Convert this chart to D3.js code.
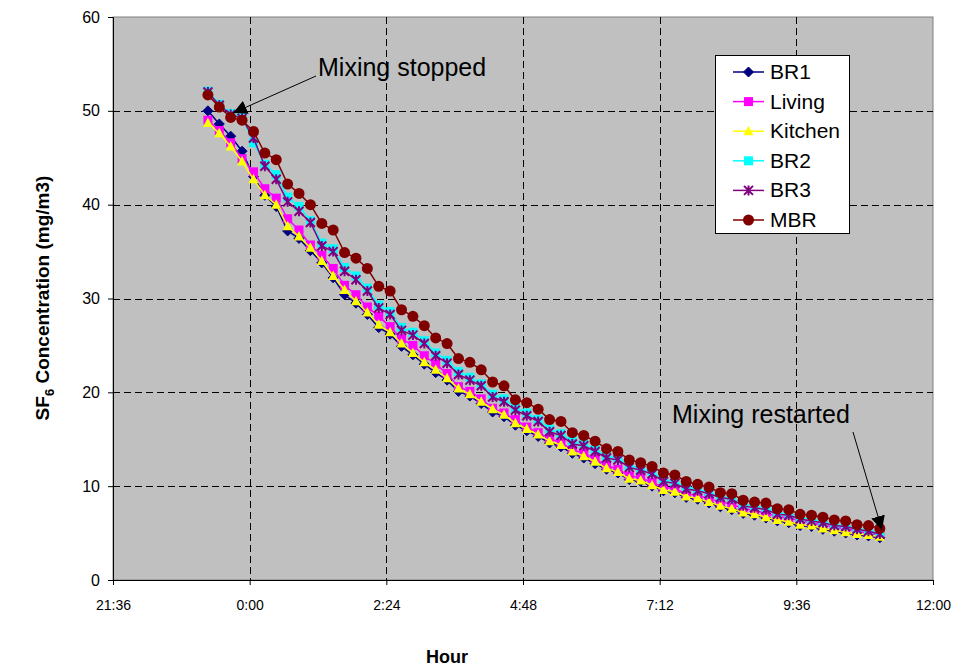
<!DOCTYPE html>
<html><head><meta charset="utf-8">
<script src="https://cdn.jsdelivr.net/npm/d3@7/dist/d3.min.js"></script>
<style>body{margin:0;background:#fff;}svg{display:block;font-family:"Liberation Sans",Arial,sans-serif;}</style>
</head><body><svg id="c" width="959" height="668"></svg>
<script>
const times = ["23:16","23:28","23:40","23:52","0:04","0:16","0:28","0:40","0:52","1:04","1:16","1:28","1:40","1:52","2:04","2:16","2:28","2:40","2:52","3:04","3:16","3:28","3:40","3:52","4:04","4:16","4:28","4:40","4:52","5:04","5:16","5:28","5:40","5:52","6:04","6:16","6:28","6:40","6:52","7:04","7:16","7:28","7:40","7:52","8:04","8:16","8:28","8:40","8:52","9:04","9:16","9:28","9:40","9:52","10:04","10:16","10:28","10:40","10:52","11:04"];
const BR1 = [50.0,48.6,47.3,45.7,43.0,41.0,39.8,37.2,36.4,35.1,33.8,32.2,30.4,29.5,28.3,26.9,26.2,24.9,24.0,23.0,22.1,21.3,20.1,19.6,18.8,17.9,17.4,16.5,15.9,15.3,14.6,14.2,13.5,13.0,12.4,11.8,11.4,10.7,10.5,10.0,9.5,9.3,8.8,8.6,8.2,7.8,7.5,7.1,6.9,6.6,6.3,6.1,5.8,5.7,5.4,5.2,5.0,4.8,4.7,4.5];
const Living = [49.0,47.9,46.6,44.9,43.5,41.7,40.7,38.5,37.3,35.7,34.6,33.2,31.4,30.4,29.1,28.1,27.0,25.7,25.0,23.9,23.0,22.0,20.6,20.1,19.3,18.3,17.8,17.1,16.3,15.7,15.1,14.6,13.9,13.5,12.9,12.2,11.8,11.1,10.9,10.4,9.9,9.7,9.2,9.0,8.7,8.3,8.1,7.6,7.4,7.1,6.8,6.6,6.3,6.1,5.9,5.6,5.5,5.2,5.0,4.8];
const Kitchen = [48.7,47.6,46.2,44.6,42.7,41.0,40.0,37.7,36.6,35.4,34.0,32.4,30.9,29.7,28.5,27.2,26.4,25.2,24.2,23.2,22.4,21.5,20.4,19.8,19.0,18.2,17.6,16.7,16.1,15.5,14.8,14.4,13.7,13.2,12.6,11.9,11.5,10.8,10.6,10.1,9.6,9.4,8.9,8.7,8.3,7.9,7.6,7.2,7.0,6.7,6.4,6.2,5.9,5.8,5.5,5.3,5.1,4.9,4.8,4.6];
const BR2 = [52.1,50.7,49.7,49.3,46.6,44.3,43.2,40.8,39.8,38.3,35.9,35.3,33.3,32.4,31.1,29.3,28.6,26.9,26.4,25.5,24.2,23.4,22.2,21.6,20.9,19.8,19.3,18.3,17.8,17.1,16.1,15.6,14.8,14.5,13.9,13.2,13.0,12.2,11.9,11.5,10.7,10.5,9.9,9.7,9.3,8.9,8.7,8.1,7.9,7.7,7.2,7.0,6.6,6.5,6.2,5.9,5.8,5.5,5.3,5.0];
const BR3 = [52.0,50.6,49.6,49.2,47.1,44.1,42.7,40.3,39.3,38.1,35.6,35.0,32.9,32.0,30.8,29.0,28.3,26.6,26.1,25.2,23.9,23.1,21.9,21.3,20.7,19.5,19.0,18.1,17.5,16.9,15.8,15.4,14.5,14.3,13.7,13.0,12.8,12.0,11.7,11.3,10.5,10.3,9.7,9.5,9.2,8.8,8.6,7.9,7.7,7.5,7.0,6.9,6.5,6.3,6.1,5.8,5.7,5.4,5.2,4.9];
const MBR = [51.7,50.4,49.3,49.0,47.8,45.5,44.8,42.2,41.2,40.0,38.0,37.3,34.9,34.3,33.2,31.3,30.8,28.8,28.1,27.1,25.8,25.2,23.6,23.2,22.4,21.1,20.7,19.2,18.9,18.2,17.1,16.9,15.7,15.4,14.8,14.0,13.7,12.8,12.5,12.1,11.4,11.2,10.5,10.2,9.9,9.3,9.2,8.5,8.3,8.2,7.6,7.5,7.0,6.9,6.7,6.4,6.3,5.9,5.8,5.5];
const seriesNames = ["BR1","Living","Kitchen","BR2","BR3","MBR"];
const seriesColors = ["#000080","#FF00FF","#FFFF00","#00FFFF","#800080","#800000"];
const seriesMarkers = ["diamond","square","triangle","square","star","circle"];
const xTickLabels = ["21:36","0:00","2:24","4:48","7:12","9:36","12:00"];
const yTicks = [0,10,20,30,40,50,60];

const allSeries = [BR1, Living, Kitchen, BR2, BR3, MBR];
function toHours(s){ const [h,m]=s.split(":").map(Number); let v=h+m/60; if(v<12) v+=24; return v; }
const xTickVals = xTickLabels.map(toHours).map((v,i)=> i===xTickLabels.length-1 ? 36 : v);

const svg = d3.select("#c");
const L=113, R=933, T=17, B=580;
const x = d3.scaleLinear().domain([21.6,36]).range([L,R]);
const y = d3.scaleLinear().domain([0,60]).range([B,T]);

svg.append("rect").attr("x",L).attr("y",T).attr("width",R-L).attr("height",B-T)
  .attr("fill","#C0C0C0").attr("stroke","#808080").attr("stroke-width",1);

// gridlines
svg.append("g").selectAll("line").data(yTicks.filter(d=>d>0&&d<60)).join("line")
  .attr("x1",L).attr("x2",R).attr("y1",d=>Math.round(y(d))+0.5).attr("y2",d=>Math.round(y(d))+0.5)
  .attr("stroke","#000").attr("stroke-dasharray","7,4").attr("stroke-width",1);
svg.append("g").selectAll("line").data(xTickVals.slice(1,-1)).join("line")
  .attr("y1",T).attr("y2",B).attr("x1",d=>Math.round(x(d))+0.5).attr("x2",d=>Math.round(x(d))+0.5)
  .attr("stroke","#000").attr("stroke-dasharray","7,4").attr("stroke-width",1);

// axes
const xAxis = d3.axisBottom(x).tickValues(xTickVals).tickFormat((d,i)=>xTickLabels[i]).tickSize(5).tickPadding(15);
const gx = svg.append("g").attr("transform",`translate(0,${B})`).call(xAxis);
gx.select(".domain").attr("stroke","#000");
gx.selectAll("text").attr("font-size",14).attr("fill","#000").attr("font-family","'Liberation Sans',Arial,sans-serif");
const yAxis = d3.axisLeft(y).tickValues(yTicks).tickSize(5).tickPadding(8);
const gy = svg.append("g").attr("transform",`translate(${L},0)`).call(yAxis);
gy.select(".domain").attr("stroke","#000");
gy.selectAll("text").attr("font-size",16).attr("fill","#000").attr("font-family","'Liberation Sans',Arial,sans-serif");

// titles
svg.append("text").attr("x",447).attr("y",663).attr("text-anchor","middle")
  .attr("font-size",18).attr("font-weight","bold").text("Hour");
const yt = svg.append("text").attr("transform","translate(49,298) rotate(-90)").attr("text-anchor","middle")
  .attr("font-size",19).attr("font-weight","bold");
yt.append("tspan").text("SF");
yt.append("tspan").attr("font-size",13).attr("dy",5).text("6");
yt.append("tspan").attr("dy",-5).text(" Concentration (mg/m3)");

// markers
function drawMarker(g, type, color, cx, cy){
  if(type==="diamond"){
    g.append("path").attr("d",`M${cx},${cy-5}L${cx+5},${cy}L${cx},${cy+5}L${cx-5},${cy}Z`).attr("fill",color).attr("stroke",color);
  } else if(type==="square"){
    g.append("rect").attr("x",cx-4.5).attr("y",cy-4.5).attr("width",9).attr("height",9).attr("fill",color);
  } else if(type==="triangle"){
    g.append("path").attr("d",`M${cx},${cy-5.5}L${cx+5},${cy+4}L${cx-5},${cy+4}Z`).attr("fill",color);
  } else if(type==="star"){
    g.append("path").attr("d",`M${cx-4.5},${cy-4.5}L${cx+4.5},${cy+4.5}M${cx+4.5},${cy-4.5}L${cx-4.5},${cy+4.5}M${cx},${cy-5}L${cx},${cy+5}`)
      .attr("stroke",color).attr("stroke-width",2).attr("fill","none");
  } else if(type==="circle"){
    g.append("circle").attr("cx",cx).attr("cy",cy).attr("r",5.5).attr("fill",color);
  }
}

const line = d3.line().x((d,i)=>x(toHours(times[i]))).y(d=>y(d));
allSeries.forEach((vals,si)=>{
  const g = svg.append("g");
  g.append("path").datum(vals).attr("d",line).attr("fill","none").attr("stroke",seriesColors[si]).attr("stroke-width",1.5);
  vals.forEach((v,i)=>drawMarker(g, seriesMarkers[si], seriesColors[si], x(toHours(times[i])), y(v)));
});

// annotations
svg.append("defs").append("marker").attr("id","ah").attr("viewBox","0 0 10 10").attr("refX",10).attr("refY",5)
  .attr("markerWidth",14).attr("markerHeight",14).attr("markerUnits","userSpaceOnUse").attr("orient","auto")
  .append("path").attr("d","M0,0L10,5L0,10Z").attr("fill","#000");
svg.append("line").attr("x1",316).attr("y1",76).attr("x2",233).attr("y2",113).attr("stroke","#000").attr("stroke-width",1).attr("marker-end","url(#ah)");
svg.append("text").attr("x",318).attr("y",76).attr("font-size",25).text("Mixing stopped");
svg.append("line").attr("x1",853).attr("y1",432).attr("x2",882).attr("y2",530).attr("stroke","#000").attr("stroke-width",1).attr("marker-end","url(#ah)");
svg.append("text").attr("x",672).attr("y",423).attr("font-size",25).text("Mixing restarted");

// legend
const lg = svg.append("g");
lg.append("rect").attr("x",715.5).attr("y",55.5).attr("width",134).attr("height",178).attr("fill","#fff").attr("stroke","#000");
seriesNames.forEach((n,i)=>{
  const cy = 72 + i*29.6;
  lg.append("line").attr("x1",733).attr("x2",764).attr("y1",cy).attr("y2",cy).attr("stroke",seriesColors[i]).attr("stroke-width",1.5);
  drawMarker(lg, seriesMarkers[i], seriesColors[i], 748.5, cy);
  lg.append("text").attr("x",770).attr("y",cy+7).attr("font-size",21).text(n);
});
</script></body></html>
